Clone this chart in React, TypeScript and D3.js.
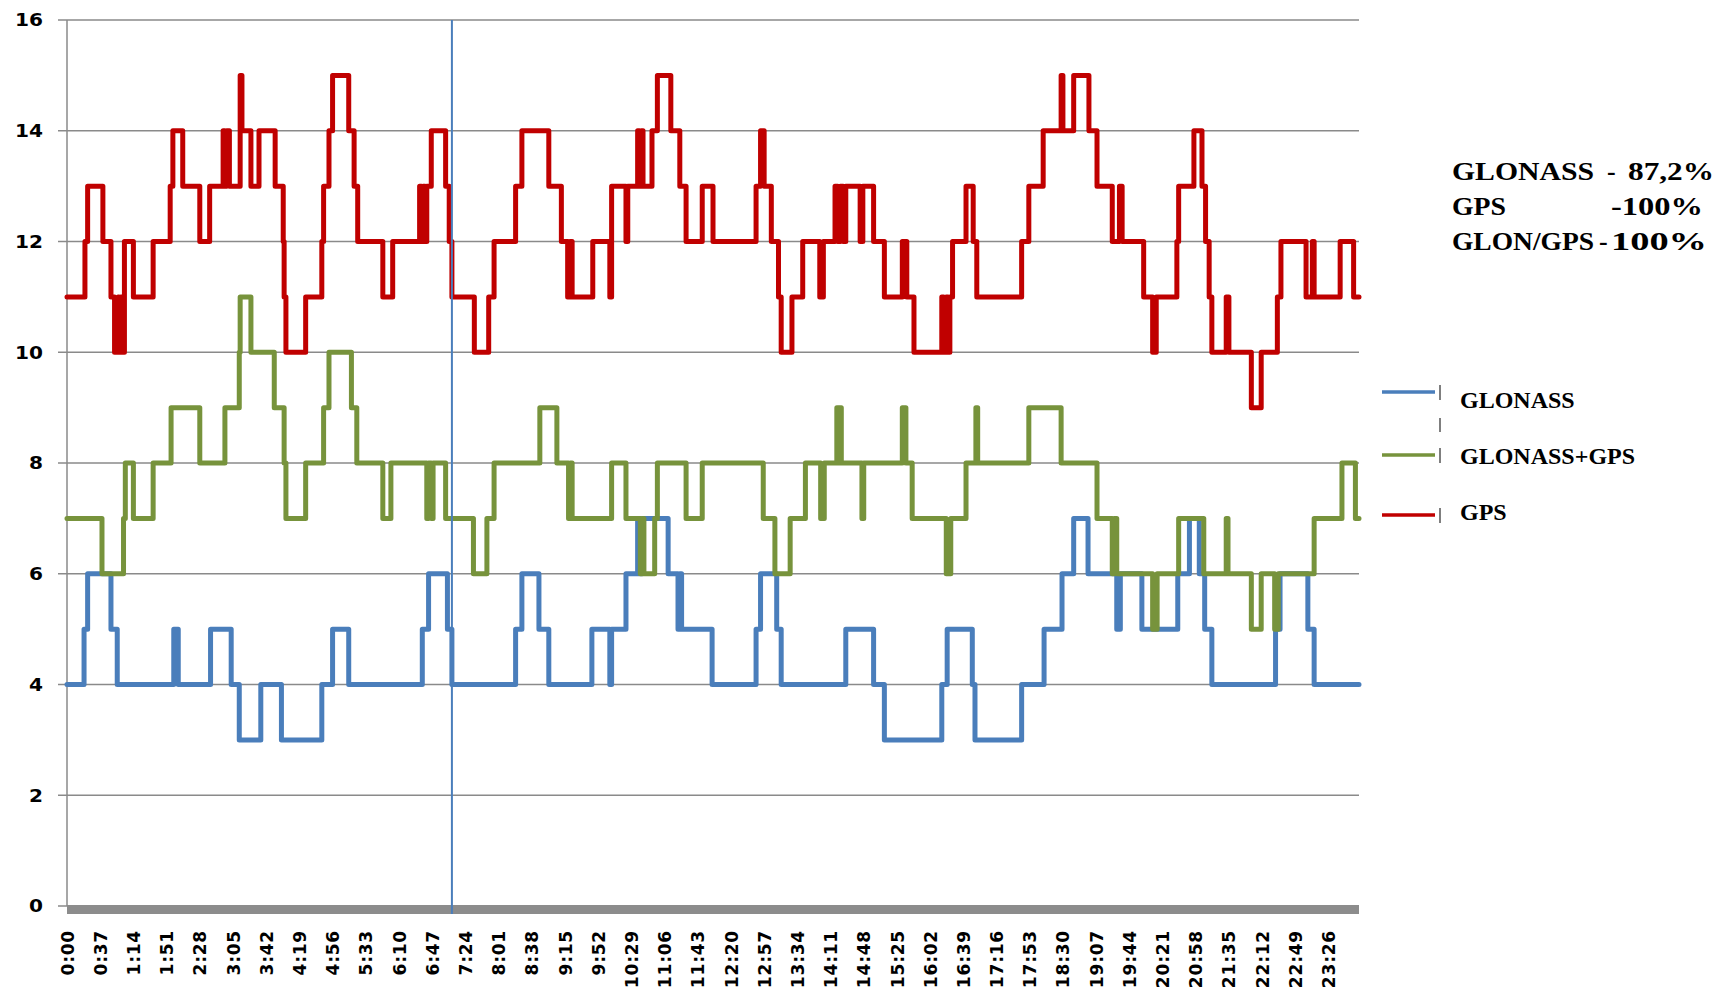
import { scaleLinear, line, curveStepAfter } from "d3";

type Step = [number, number];

const DAY_MINUTES = 1440;

// satellites in view, [minute of day, count]; the count holds until the next entry
const glonassSteps: Step[] = [
  [0, 4], [19, 5], [23, 6], [49, 5], [56, 4], [119, 5], [124, 4], [160, 5], [183, 4],
  [192, 3], [216, 4], [239, 3], [284, 4], [296, 5], [314, 4], [396, 5], [403, 6],
  [424, 5], [429, 4], [500, 5], [507, 6], [526, 5], [537, 4], [585, 5], [605, 4], [607, 5],
  [623, 6], [636, 7], [638, 6], [641, 7], [670, 6], [681, 5], [683, 6], [685, 5], [719, 4],
  [768, 5], [773, 6], [791, 5], [796, 4], [868, 5], [899, 4], [911, 3], [975, 4], [981, 5],
  [1009, 4], [1012, 3], [1064, 4], [1089, 5], [1109, 6], [1122, 7], [1138, 6], [1170, 5],
  [1174, 6], [1198, 5], [1238, 6], [1251, 7], [1262, 6], [1268, 5], [1276, 4], [1347, 5],
  [1352, 6], [1383, 5], [1390, 4],
];

const comboSteps: Step[] = [
  [0, 7], [39, 6], [63, 7], [65, 8], [74, 7], [96, 8], [116, 9], [148, 8], [176, 9],
  [192, 10], [193, 11], [205, 10], [231, 9], [242, 8], [244, 7], [266, 8], [286, 9],
  [292, 10], [317, 9], [323, 8], [352, 7], [361, 8], [401, 7], [403, 8], [406, 7], [408, 8],
  [422, 7], [453, 6], [468, 7], [476, 8], [527, 9], [546, 8], [559, 7], [561, 8], [563, 7],
  [607, 8], [623, 7], [639, 6], [641, 7], [643, 6], [655, 7], [658, 8], [690, 7], [708, 8],
  [776, 7], [789, 6], [806, 7], [823, 8], [840, 7], [844, 8], [858, 9], [860, 8], [861, 9],
  [863, 8], [886, 7], [888, 8], [931, 9], [935, 8], [942, 7], [980, 6], [985, 7], [1002, 8],
  [1013, 9], [1015, 8], [1072, 9], [1108, 8], [1148, 7], [1165, 6], [1167, 7], [1170, 6],
  [1210, 5], [1215, 6], [1239, 7], [1267, 6], [1292, 7], [1294, 6], [1320, 5], [1331, 6],
  [1346, 5], [1350, 6], [1390, 7], [1421, 8], [1436, 7],
];

const gpsSteps: Step[] = [
  [0, 11], [20, 12], [23, 13], [40, 12], [49, 11], [53, 10], [57, 11], [58, 10], [60, 11],
  [61, 10], [64, 12], [74, 11], [96, 12], [115, 13], [118, 14], [129, 13], [148, 12],
  [159, 13], [174, 14], [176, 13], [178, 14], [181, 13], [193, 15], [195, 14], [205, 13],
  [214, 14], [232, 13], [241, 12], [242, 11], [244, 10], [266, 11], [284, 12], [286, 13],
  [292, 14], [296, 15], [314, 14], [320, 13], [324, 12], [352, 11], [363, 12], [393, 13],
  [395, 12], [397, 13], [399, 12], [401, 13], [406, 14], [422, 13], [426, 12], [429, 11],
  [454, 10], [470, 11], [476, 12], [500, 13], [507, 14], [537, 13], [551, 12], [558, 11],
  [561, 12], [563, 11], [586, 12], [605, 11], [607, 13], [623, 12], [625, 13], [636, 14],
  [638, 13], [640, 14], [642, 13], [652, 14], [658, 15], [673, 14], [683, 13], [690, 12],
  [708, 13], [720, 12], [768, 13], [773, 14], [777, 13], [785, 12], [793, 11], [796, 10],
  [808, 11], [820, 12], [839, 11], [843, 12], [856, 13], [859, 12], [862, 13], [865, 12],
  [868, 13], [884, 12], [887, 13], [899, 12], [911, 11], [931, 12], [936, 11], [944, 10],
  [975, 11], [977, 10], [980, 11], [982, 10], [984, 11], [987, 12], [1002, 13], [1010, 12],
  [1014, 11], [1064, 12], [1072, 13], [1088, 14], [1108, 15], [1110, 14], [1122, 15],
  [1139, 14], [1148, 13], [1165, 12], [1173, 13], [1176, 12], [1200, 11], [1210, 10],
  [1214, 11], [1237, 12], [1239, 13], [1256, 14], [1265, 13], [1269, 12], [1273, 11],
  [1276, 10], [1292, 11], [1295, 10], [1320, 9], [1331, 10], [1349, 11], [1353, 12],
  [1381, 11], [1388, 12], [1390, 11], [1419, 12], [1434, 11],
];

const timeLabels = [
  "0:00", "0:37", "1:14", "1:51", "2:28", "3:05", "3:42", "4:19", "4:56", "5:33",
  "6:10", "6:47", "7:24", "8:01", "8:38", "9:15", "9:52", "10:29", "11:06", "11:43",
  "12:20", "12:57", "13:34", "14:11", "14:48", "15:25", "16:02", "16:39", "17:16", "17:53",
  "18:30", "19:07", "19:44", "20:21", "20:58", "21:35", "22:12", "22:49", "23:26",
];

const yTicks = [0, 2, 4, 6, 8, 10, 12, 14, 16];

// vertical marker on the time axis (minute of day)
const markerMinute = 429;

const seriesNames = ["GLONASS", "GLONASS+GPS", "GPS"];
const seriesColors = ["#4a7ebb", "#77933c", "#c00000"];

const availabilityLines = [
  { name: "GLONASS", sep: "-", value: "87,2%" },
  { name: "GPS", sep: "", value: "-100%" },
  { name: "GLON/GPS", sep: "-", value: "100%" },
];

const W = 1721;
const H = 992;
const plot = { left: 67, right: 1359, top: 20, bottom: 906 };
const gridColor = "#8a8a8a";
const labelFont = "'DejaVu Sans', sans-serif";
const serifFont = "'Liberation Serif', 'Times New Roman', serif";

const toMinutes = (t: string) => {
  const [h, m] = t.split(":").map(Number);
  return h * 60 + m;
};

export default function App() {
  const x = scaleLinear().domain([0, DAY_MINUTES]).range([plot.left, plot.right]);
  const y = scaleLinear().domain([0, 16]).range([plot.bottom, plot.top]);

  const stepLine = line<Step>()
    .x((d) => x(d[0]))
    .y((d) => y(d[1]))
    .curve(curveStepAfter);

  const withEnd = (s: Step[]): Step[] => [...s, [DAY_MINUTES, s[s.length - 1][1]]];
  const allSeries = [glonassSteps, comboSteps, gpsSteps];

  const legendY = [392, 455, 515];
  const legendTextY = [408, 464, 520];

  return (
    <svg
      width={W}
      height={H}
      style={{ position: "absolute", left: 0, top: 0, background: "#fff" }}
    >
      <rect width={W} height={H} fill="#fff" />

      {/* horizontal grid */}
      {yTicks.slice(1).map((t) => (
        <line
          key={`g-${t}`}
          x1={plot.left}
          x2={plot.right}
          y1={y(t)}
          y2={y(t)}
          stroke={gridColor}
          strokeWidth={1.5}
        />
      ))}

      {/* left axis */}
      <line
        x1={plot.left}
        x2={plot.left}
        y1={plot.top}
        y2={plot.bottom}
        stroke={gridColor}
        strokeWidth={1.5}
      />
      {yTicks.map((t) => (
        <g key={`yt-${t}`}>
          <line
            x1={plot.left - 9}
            x2={plot.left}
            y1={y(t)}
            y2={y(t)}
            stroke={gridColor}
            strokeWidth={1.5}
          />
          <text
            x={43}
            y={y(t)}
            dy="0.36em"
            textAnchor="end"
            fontFamily={labelFont}
            fontWeight="bold"
            fontSize={18}
            textLength={String(t).length * 14}
            lengthAdjust="spacingAndGlyphs"
            fill="#000"
          >
            {t}
          </text>
        </g>
      ))}

      {/* thick floor of the time axis */}
      <rect
        x={plot.left}
        y={plot.bottom - 1}
        width={plot.right - plot.left}
        height={9}
        fill="#8c8c8c"
      />

      {/* time labels */}
      {timeLabels.map((t) => {
        const cx = x(toMinutes(t) + 0.5);
        return (
          <text
            key={`xl-${t}`}
            transform={`translate(${cx}, 930) rotate(-90)`}
            dy="0.36em"
            textAnchor="end"
            fontFamily={labelFont}
            fontWeight="bold"
            fontSize={17}
            letterSpacing={0.8}
            fill="#000"
          >
            {t}
          </text>
        );
      })}

      {/* series */}
      {allSeries.map((s, i) => (
        <path
          key={seriesNames[i]}
          d={stepLine(withEnd(s)) ?? ""}
          fill="none"
          stroke={seriesColors[i]}
          strokeWidth={5}
          strokeLinejoin="round"
          strokeLinecap="round"
        />
      ))}

      {/* marker */}
      <line
        x1={x(markerMinute)}
        x2={x(markerMinute)}
        y1={plot.top}
        y2={plot.bottom + 8}
        stroke="#4a7ebb"
        strokeWidth={2}
      />

      {/* legend */}
      {seriesNames.map((n, i) => (
        <g key={`lg-${n}`}>
          <line
            x1={1382}
            x2={1435}
            y1={legendY[i]}
            y2={legendY[i]}
            stroke={seriesColors[i]}
            strokeWidth={3.5}
          />
          <line
            x1={1440}
            x2={1440}
            y1={legendY[i] - 7}
            y2={legendY[i] + 8}
            stroke="#555"
            strokeWidth={1.5}
          />
          <text
            x={1460}
            y={legendTextY[i]}
            fontFamily={serifFont}
            fontWeight="bold"
            fontSize={24}
            fill="#000"
          >
            {n}
          </text>
        </g>
      ))}
      <line x1={1440} x2={1440} y1={418} y2={432} stroke="#555" strokeWidth={1.5} />

      {/* availability summary */}
      {availabilityLines.map((r, i) => {
        const by = 180 + i * 35;
        const nameLen = r.name === "GPS" ? 54 : 142;
        return (
          <g
            key={`av-${i}`}
            fontFamily={serifFont}
            fontWeight="bold"
            fontSize={26}
            fill="#000"
          >
            <text x={1452} y={by} textLength={nameLen} lengthAdjust="spacingAndGlyphs">
              {r.name}
            </text>
            {r.sep && (
              <text x={i === 2 ? 1599 : 1607} y={by}>
                {r.sep}
              </text>
            )}
            <text
              x={i === 0 ? 1628 : 1611}
              y={by}
              textLength={i === 0 ? 86 : i === 1 ? 92 : 96}
              lengthAdjust="spacingAndGlyphs"
            >
              {r.value}
            </text>
          </g>
        );
      })}
    </svg>
  );
}
